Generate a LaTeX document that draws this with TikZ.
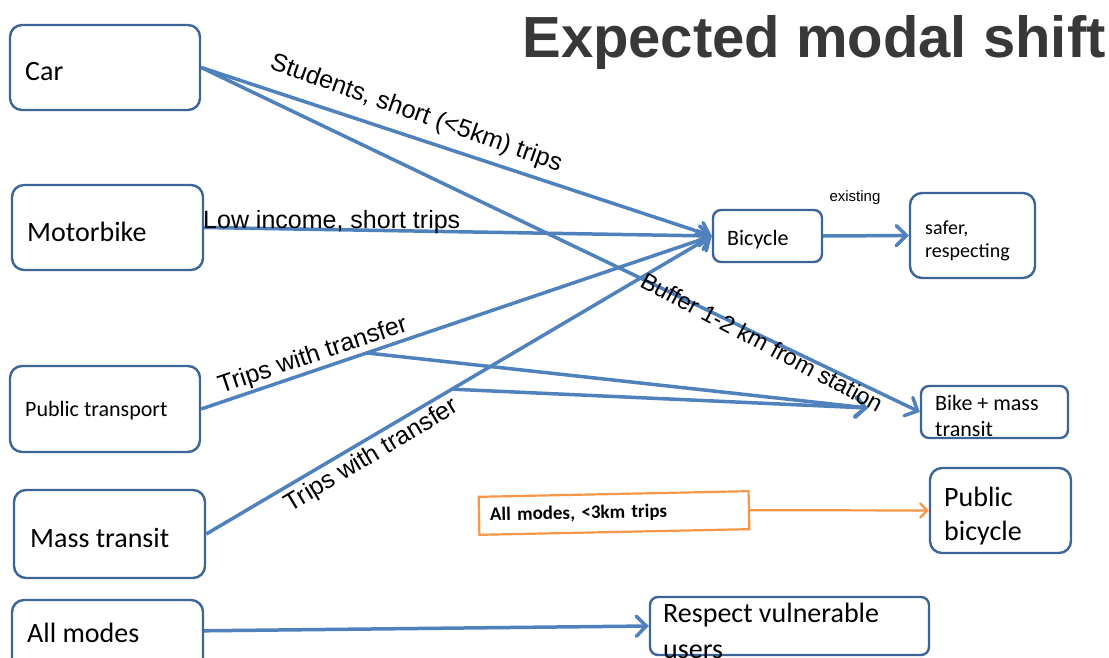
\documentclass[tikz,border=0pt]{standalone}
\usepackage{fontspec}
\setmainfont{Carlito}
\newfontfamily\arial{Liberation Sans}
\usetikzlibrary{arrows.meta,calc}
\definecolor{lineblue}{HTML}{4F81BD}
\definecolor{boxblue}{HTML}{3C6698}
\definecolor{orng}{HTML}{F79646}
\definecolor{titlegray}{HTML}{383838}
\begin{document}
\begin{tikzpicture}[x=1pt,y=-1pt,
  box/.style={draw=boxblue, line width=2.4pt, rounded corners=12pt, inner sep=0pt},
  sbox/.style={box, rounded corners=8pt},
  lbl/.style={anchor=west, inner sep=0pt, align=left, font=\fontsize{28}{34}\selectfont},
  elbl/.style={inner sep=0pt, font=\arial\fontsize{25}{30}\selectfont},
  conn/.style={draw=lineblue, line width=3.5pt, line join=round, -{Straight Barb[length=10pt,width=20pt,line cap=round]}},
  oconn/.style={draw=orng, line width=2.2pt, -{Straight Barb[length=7pt,width=14pt,line cap=round]}}
]
\clip (0,0) rectangle (1109,658);
\fill[white] (0,0) rectangle (1109,658);

% title
\node[anchor=base, inner sep=0pt, text=titlegray, font=\arial\bfseries\fontsize{58}{62}\selectfont] (title) at (814,58) {Expected modal shift};

% source boxes
\node[box, minimum width=190pt, minimum height=85pt] (car) at (105,67.5) {};
\node[box, minimum width=191pt, minimum height=85pt] (moto) at (107.5,227.5) {};
\node[box, minimum width=190pt, minimum height=86pt] (pt) at (105,409) {};
\node[box, minimum width=191pt, minimum height=88pt] (mt) at (109.5,534) {};
\node[box, minimum width=191pt, minimum height=88pt] (allm) at (107.5,644) {};

% target boxes
\node[sbox, minimum width=109pt, minimum height=52pt] (bic) at (767.5,236) {};
\node[box, minimum width=125pt, minimum height=85pt] (safer) at (972.5,235.5) {};
\node[sbox, minimum width=147pt, minimum height=52pt] (bmt) at (994.5,412) {};
\node[box, minimum width=141pt, minimum height=85pt] (pbic) at (1000.5,510.5) {};
\node[sbox, minimum width=279pt, minimum height=58pt] (resp) at (789.5,626) {};

% orange box
\node[draw=orng, line width=2.2pt, minimum width=270pt, minimum height=38pt, inner xsep=11pt,
      text width=248pt, align=left, rotate=1.2, font=\bfseries\fontsize{19}{22}\selectfont] (obox) at (614,513) {All modes, <3km trips};

% box texts
\node[lbl] (tcar) at (25,72) {Car};
\node[lbl] (tmoto) at (27,232) {Motorbike};
\node[lbl, font=\fontsize{22}{26}\selectfont] (tpt) at (25,411) {Public transport};
\node[lbl] (tmt) at (30,538) {Mass transit};
\node[lbl] (tallm) at (27,633) {All modes};
\node[lbl, font=\fontsize{22}{26}\selectfont] (tbic) at (727,240) {Bicycle};
\node[lbl, font=\fontsize{20}{23}\selectfont] (tsafer) at (925,241) {safer,\\respecting};
\node[lbl, font=\fontsize{22}{26}\selectfont] (tbmt) at (935,416) {Bike + mass\\transit};
\node[lbl] (tpbic) at (944,516) {Public\\bicycle};
\node[lbl, font=\fontsize{28}{36}\selectfont] (tresp) at (663,631) {Respect vulnerable\\users};

% junctions
\coordinate (j1) at ($(pt.east)!0.324!(bic.west)$);
\coordinate (j2) at ($(mt.east)!0.486!(bic.west)$);
\coordinate (m1) at (868,408);
\coordinate (allout) at ($(allm.north east)+(0,32)$);

% connectors
\draw[conn] (car.east) -- (bic.west);
\draw[conn] (car.east) -- (bmt.west);
\draw[conn] (moto.east) -- (bic.west);
\draw[conn] (pt.east) -- (bic.west);
\draw[conn] (mt.east) -- (bic.west);
\draw[conn] (j1) -- (m1);
\draw[conn] (j2) -- (m1);
\draw[conn] (bic.east) -- (safer.west);
\draw[conn] (allout) -- (resp.west);
\draw[oconn] (obox.east) -- (pbic.west);

% edge labels
\node[elbl, rotate=-19.5] (lstud) at (416,114) {Students, short (<5km) trips};
\node[elbl, anchor=base west] (llow) at (203,228) {Low income, short trips};
\node[elbl, rotate=18.5] (ltr1) at (313,356) {Trips with transfer};
\node[elbl, rotate=31] (ltr2) at (372,456) {Trips with transfer};
\node[elbl, font=\arial\fontsize{23.5}{28}\selectfont, rotate=-28] (lbuf) at (762,342) {Buffer 1-2 km from station};
\node[elbl, font=\arial\fontsize{15}{18}\selectfont] (lexist) at (855,198) {existing};
\end{tikzpicture}
\end{document}
